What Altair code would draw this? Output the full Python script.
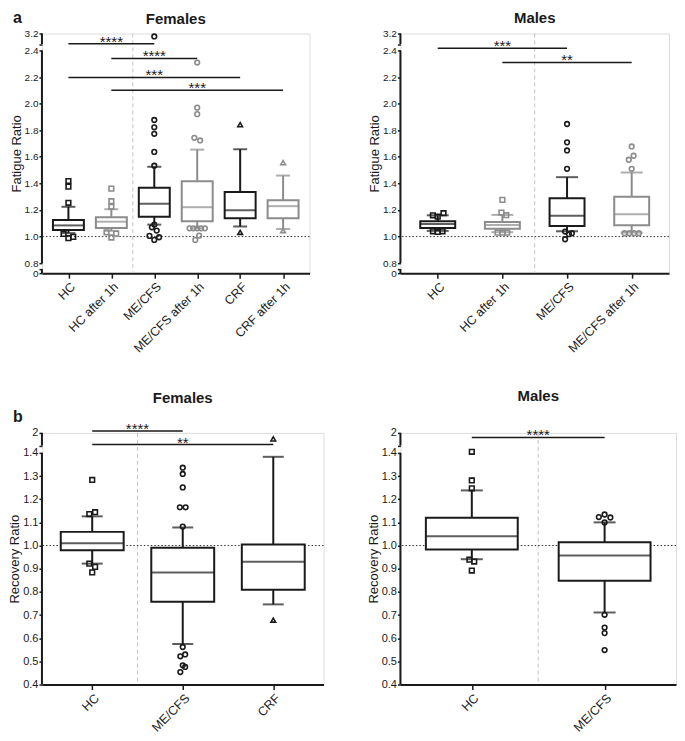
import altair as alt
import pandas as pd

# ---------------- data ----------------
# a) Females – Fatigue Ratio
ff_cats = ["HC", "HC after 1h", "ME/CFS", "ME/CFS after 1h", "CRF", "CRF after 1h"]
ff_q1 = [1.050, 1.064, 1.149, 1.115, 1.137, 1.137]
ff_med = [1.084, 1.112, 1.247, 1.221, 1.198, 1.229]
ff_q3 = [1.124, 1.146, 1.367, 1.417, 1.336, 1.273]
ff_lo = [1.026, 1.043, 1.090, 1.062, 1.076, 1.057]
ff_hi = [1.224, 1.206, 1.525, 1.654, 1.657, 1.459]
ff_out_cat = [0, 0, 0, 0, 0, 0,
              1, 1, 1, 1, 1, 1,
              2, 2, 2, 2, 2, 2, 2, 2, 2, 2, 2, 2,
              3, 3, 3, 3, 3, 3, 3, 3, 3, 3, 3, 3,
              4, 4, 5, 5]
ff_out_val = [1.418, 1.376, 1.254, 1.020, 0.988, 0.998,
              1.361, 1.266, 1.224, 1.032, 1.022, 0.993,
              3.06, 1.877, 1.822, 1.773, 1.637, 1.533, 1.090, 1.070, 1.045, 1.005, 0.975, 0.995,
              2.309, 1.970, 1.921, 1.743, 1.723, 1.062, 1.062, 1.062, 1.062, 1.062, 1.007, 0.975,
              1.842, 1.032, 1.556, 1.045]
ff_out_dx = [0, 0, 0, -5, 0, 5,
             0, 0, 0, -5, 5, 0,
             0, 0, 0, 0, 0, 0, 0, -2.5, 2.5, -5, 0, 5,
             0, 0, 0, -3, 3, -8, -4, 0, 4, 8, 2, -2,
             0, 0, 0, 0]
ff_sig_from = [0, 1, 0, 1]
ff_sig_to = [2, 3, 4, 5]
ff_sig_y = [2.72, 2.34, 2.197, 2.10]
ff_sig_txt = ["****", "****", "***", "***"]

# a) Males – Fatigue Ratio
fm_cats = ["HC", "HC after 1h", "ME/CFS", "ME/CFS after 1h"]
fm_q1 = [1.065, 1.058, 1.080, 1.085]
fm_med = [1.095, 1.087, 1.156, 1.168]
fm_q3 = [1.116, 1.110, 1.289, 1.300]
fm_lo = [1.043, 1.033, 1.040, 1.030]
fm_hi = [1.160, 1.163, 1.447, 1.482]
fm_out_cat = [0, 0, 0, 0, 0, 0,
              1, 1, 1, 1, 1, 1,
              2, 2, 2, 2, 2, 2, 2, 2,
              3, 3, 3, 3, 3, 3, 3, 3]
fm_out_val = [1.160, 1.150, 1.176, 1.040, 1.035, 1.040,
              1.276, 1.181, 1.161, 1.030, 1.030, 1.030,
              1.847, 1.709, 1.648, 1.510, 1.038, 1.018, 1.025, 0.980,
              1.678, 1.608, 1.578, 1.510, 1.025, 1.025, 1.025, 1.025]
fm_out_dx = [-5, 0, 6, -5, 0, 5,
             0, -1, 4, -5, 0, 5,
             0, 0, 0, 0, -2, 2, 5, -2,
             0, 2, -3, 0, -7.5, -2.5, 2.5, 7.5]
fm_sig_from = [0, 1]
fm_sig_to = [2, 3]
fm_sig_y = [2.5, 2.31]
fm_sig_txt = ["***", "**"]

# b) Females – Recovery Ratio
rf_cats = ["HC", "ME/CFS", "CRF"]
rf_q1 = [0.980, 0.757, 0.809]
rf_med = [1.010, 0.884, 0.930]
rf_q3 = [1.059, 0.990, 1.004]
rf_lo = [0.922, 0.575, 0.746]
rf_hi = [1.126, 1.078, 1.383]
rf_out_cat = [0, 0, 0, 0, 0, 0,
              1, 1, 1, 1, 1, 1, 1, 1, 1, 1, 1, 1,
              2, 2]
rf_out_val = [1.283, 1.136, 1.144, 0.922, 0.908, 0.884,
              1.336, 1.309, 1.251, 1.165, 1.165, 1.082, 0.562, 0.522, 0.530, 0.483, 0.476, 0.454,
              1.82, 0.678]
rf_out_dx = [0, -3, 3, -3, 3, 0,
             0, 0, 0, -3, 3, 0, 0, -2.5, 2.5, 0, 2.5, -2.5,
             0, 0]
rf_sig_from = [0, 0]
rf_sig_to = [1, 2]
rf_sig_y = [2.06, 1.65]
rf_sig_txt = ["****", "**"]

# b) Males – Recovery Ratio
rm_cats = ["HC", "ME/CFS"]
rm_q1 = [0.983, 0.848]
rm_med = [1.040, 0.957]
rm_q3 = [1.120, 1.014]
rm_lo = [0.941, 0.711]
rm_hi = [1.238, 1.100]
rm_out_cat = [0, 0, 0, 0, 0, 0,
              1, 1, 1, 1, 1, 1, 1, 1]
rm_out_val = [1.433, 1.281, 1.247, 0.939, 0.931, 0.892,
              1.123, 1.134, 1.121, 1.100, 0.701, 0.646, 0.622, 0.549]
rm_out_dx = [0, 0, 0, -2.5, 2.5, 0,
             -6, 0, 6, 0, 0, 0, 0, 0]
rm_sig_from = [0]
rm_sig_to = [1]
rm_sig_y = [1.865]
rm_sig_txt = ["****"]

# broken y axes
fat_domain = [0, 0.8, 2.4, 3.2]
fat_ticks = [0, 0.32, 0.8, 1.0, 1.2, 1.4, 1.6, 1.8, 2.0, 2.2, 2.4, 2.7, 3.2]
fat_tick_labels = ["0", "", "0.8", "1.0", "1.2", "1.4", "1.6", "1.8", "2.0", "2.2", "2.4", "", "3.2"]
fat_segments = [(0, 0.32), (0.8, 2.4), (2.7, 3.2)]
rec_domain = [0.4, 1.4, 2.0]
rec_ticks = [0.4, 0.5, 0.6, 0.7, 0.8, 0.9, 1.0, 1.1, 1.2, 1.3, 1.4, 1.62, 2.0]
rec_tick_labels = ["0.4", "0.5", "0.6", "0.7", "0.8", "0.9", "1.0", "1.1", "1.2", "1.3", "1.4", "", "2"]
rec_segments = [(0.4, 1.4), (1.62, 2.0)]

# ---------------- styles ----------------
BLACK = "#1a1a1a"
GRAY = "#8c8c8c"
FONT = "Liberation Sans"


def panel(cats, q1, med, q3, lo, hi, colors, shapes, oc, ov, odx,
          sf, st, sy, stxt, ydom, yrng, yticks, ylabels, ysegs, sep,
          width, height, box_px, cap_px, title, title_dy, ytitle, ylab_size, letter=None):
    n = len(cats)
    step = width / n
    boxes = pd.DataFrame(dict(idx=list(range(n)), q1=q1, med=med, q3=q3, lo=lo, hi=hi, color=colors))
    outs = pd.DataFrame(dict(x=[c + d / step for c, d in zip(oc, odx)], v=ov,
                             color=[colors[c] for c in oc], shape=[shapes[c] for c in oc]))
    sigs = pd.DataFrame(dict(x1=sf, x2=st, xm=[(a + b) / 2 for a, b in zip(sf, st)], y=sy, t=stxt))
    segs = pd.DataFrame(dict(y1=[s[0] for s in ysegs], y2=[s[1] for s in ysegs]))

    xscale = alt.Scale(domain=[-0.5, n - 0.5], nice=False, zero=False)
    yscale = alt.Scale(domain=ydom, range=yrng, nice=False, zero=False)
    cat_js = "[" + ",".join("'" + c + "'" for c in cats) + "]"
    xaxis = alt.Axis(values=list(range(n)), labelExpr=cat_js + "[datum.value]", grid=False,
                     labelAngle=-45, labelAlign="right", labelBaseline="top",
                     labelFont=FONT, labelFontSize=12.5, labelColor=BLACK, labelPadding=2,
                     labelFlush=False, labelOverlap=False, labelBound=False,
                     tickSize=5, tickWidth=1.5, tickColor=BLACK,
                     domainColor=BLACK, domainWidth=2)
    vals_js = "[" + ",".join(repr(v) for v in yticks) + "]"
    labs_js = "[" + ",".join("'" + l + "'" for l in ylabels) + "]"
    yaxis = alt.Axis(values=yticks, labelExpr=labs_js + "[indexof(" + vals_js + ", datum.value)]",
                     domain=False, grid=False, tickSize=3, tickWidth=1.5, tickColor=BLACK,
                     labelFont=FONT, labelFontSize=ylab_size, labelColor=BLACK, labelPadding=1,
                     labelOverlap=False, labelFlush=False, labelBound=False,
                     titleFont=FONT, titleFontSize=13, titleFontWeight="normal",
                     titleColor=BLACK, titlePadding=1)

    def X(f):
        return alt.X(f, type="quantitative", scale=xscale, axis=xaxis, title=None)

    def Y(f):
        return alt.Y(f, type="quantitative", scale=yscale, axis=yaxis, title=ytitle)

    col = alt.Color("color:N", scale=None)
    layers = []
    layers.append(alt.Chart(pd.DataFrame({"x": [sep]})).mark_rule(
        color="#c4c4c4", strokeDash=[4, 3], strokeWidth=1).encode(x=X("x")))
    layers.append(alt.Chart(pd.DataFrame({"y": [1.0]})).mark_rule(
        color="#333333", strokeDash=[1.5, 2], strokeWidth=1).encode(y=Y("y")))
    base = alt.Chart(boxes)
    layers.append(base.mark_rule(strokeWidth=2).encode(x=X("idx"), y=Y("lo"), y2="q1", color=col))
    layers.append(base.mark_rule(strokeWidth=2).encode(x=X("idx"), y=Y("q3"), y2="hi", color=col))
    layers.append(base.mark_tick(orient="horizontal", size=cap_px, thickness=2).encode(x=X("idx"), y=Y("lo"), color=col))
    layers.append(base.mark_tick(orient="horizontal", size=cap_px, thickness=2).encode(x=X("idx"), y=Y("hi"), color=col))
    layers.append(base.mark_bar(size=box_px, fill="white", strokeWidth=2).encode(
        x=X("idx"), y=Y("q1"), y2="q3", stroke=alt.Stroke("color:N", scale=None)))
    layers.append(base.mark_tick(orient="horizontal", size=box_px, thickness=2).encode(x=X("idx"), y=Y("med"), color=col))
    layers.append(alt.Chart(outs).mark_point(filled=False, size=22, strokeWidth=1.6, opacity=1).encode(
        x=X("x"), y=Y("v"), color=col, shape=alt.Shape("shape:N", scale=None)))
    layers.append(alt.Chart(sigs).mark_rule(strokeWidth=1.5, color=BLACK).encode(x=X("x1"), x2="x2", y=Y("y")))
    layers.append(alt.Chart(sigs).mark_text(font=FONT, fontSize=15, baseline="alphabetic", dy=3, color=BLACK).encode(
        x=X("xm"), y=Y("y"), text="t:N"))
    layers.append(alt.Chart(segs).mark_rule(strokeWidth=2, color=BLACK).encode(x=alt.value(0), y=Y("y1"), y2="y2"))
    if letter:
        layers.append(alt.Chart(pd.DataFrame({"t": [letter]})).mark_text(
            font=FONT, fontSize=16, fontWeight="bold", align="left", baseline="middle", color=BLACK).encode(
            x=alt.value(-29), y=alt.value(-16), text="t:N"))
    return alt.layer(*layers).properties(
        width=width, height=height,
        title=alt.TitleParams(title, font=FONT, fontSize=15, fontWeight="bold", color=BLACK,
                              anchor="middle", frame="group", offset=2, dy=title_dy))


sq, ci, tr = "square", "circle", "triangle-up"
p1 = panel(ff_cats, ff_q1, ff_med, ff_q3, ff_lo, ff_hi,
           [BLACK, GRAY, BLACK, GRAY, BLACK, GRAY], [sq, sq, ci, ci, tr, tr],
           ff_out_cat, ff_out_val, ff_out_dx, ff_sig_from, ff_sig_to, ff_sig_y, ff_sig_txt,
           fat_domain, [240, 230, 17, 0], fat_ticks, fat_tick_labels, fat_segments, 1.5,
           268, 240, 31, 14, "Females", 19, "Fatigue Ratio", 10, letter="a")
p2 = panel(fm_cats, fm_q1, fm_med, fm_q3, fm_lo, fm_hi,
           [BLACK, GRAY, BLACK, GRAY], [sq, sq, ci, ci],
           fm_out_cat, fm_out_val, fm_out_dx, fm_sig_from, fm_sig_to, fm_sig_y, fm_sig_txt,
           fat_domain, [240, 230, 17, 0], fat_ticks, fat_tick_labels, fat_segments, 1.5,
           269, 240, 35, 22, "Males", -1, "Fatigue Ratio", 10)
p3 = panel(rf_cats, rf_q1, rf_med, rf_q3, rf_lo, rf_hi,
           [BLACK, BLACK, BLACK], [sq, ci, tr],
           rf_out_cat, rf_out_val, rf_out_dx, rf_sig_from, rf_sig_to, rf_sig_y, rf_sig_txt,
           rec_domain, [252, 20, 0], rec_ticks, rec_tick_labels, rec_segments, 0.5,
           282, 252, 63, 21, "Females", -1, "Recovery Ratio", 11, letter="b")
p4 = panel(rm_cats, rm_q1, rm_med, rm_q3, rm_lo, rm_hi,
           [BLACK, BLACK], [sq, ci],
           rm_out_cat, rm_out_val, rm_out_dx, rm_sig_from, rm_sig_to, rm_sig_y, rm_sig_txt,
           rec_domain, [252, 20, 0], rec_ticks, rec_tick_labels, rec_segments, 0.5,
           276, 252, 92, 22, "Males", -21, "Recovery Ratio", 11)

chart = alt.concat(p1, p2, p3, p4, columns=2, bounds="flush",
                   spacing=alt.RowColnumber(row=160, column=77)).properties(
    padding={"left": 0, "top": 0, "right": 0, "bottom": 3}
).configure_view(stroke=None).configure(font=FONT)

chart.save("out.html", embed_options={"renderer": "svg", "actions": False})
